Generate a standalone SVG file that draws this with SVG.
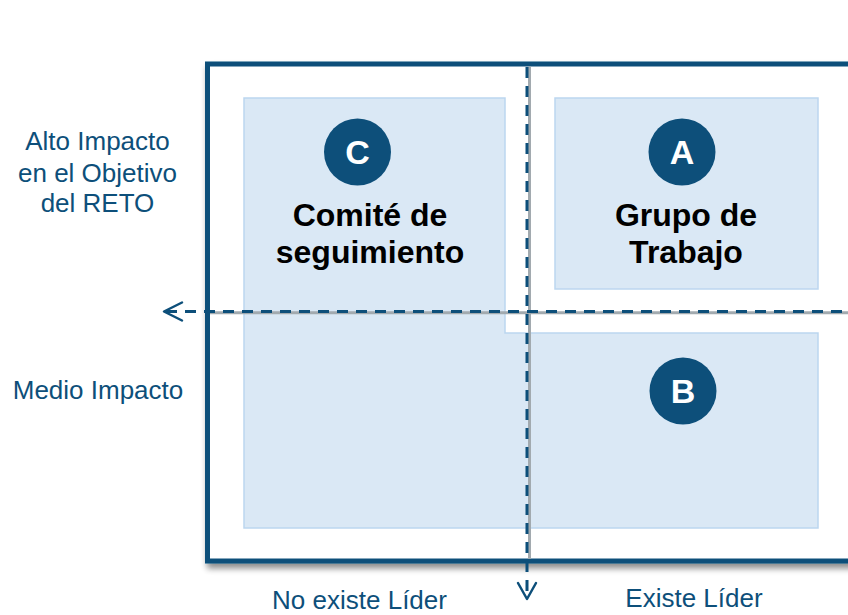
<svg xmlns="http://www.w3.org/2000/svg" width="848" height="615" viewBox="0 0 848 615">
<defs>
<style>
.zone{fill:#dae8f5;stroke:#bcd6ef;stroke-width:1.5}
.badge{fill:#0d4f7a}
.letter{fill:#ffffff;font-family:"Liberation Sans",Arial,sans-serif;font-weight:bold;font-size:34px;text-anchor:middle}
.title{fill:#000000;font-family:"Liberation Sans",Arial,sans-serif;font-weight:bold;font-size:32px;text-anchor:middle}
.axis{fill:#0d4f7a;font-family:"Liberation Sans",Arial,sans-serif;font-size:26px;text-anchor:middle}
.grid{stroke:#a2aaaf;stroke-width:3;fill:none}
.dash{stroke:#0d4f7a;stroke-width:3;stroke-dasharray:11 8;fill:none}
.head{stroke:#0d4f7a;stroke-width:2.5;fill:none;stroke-linecap:round;stroke-linejoin:round}
</style>
<filter id="shadow" x="-5%" y="-5%" width="115%" height="115%">
<feGaussianBlur in="SourceAlpha" stdDeviation="3"/>
<feOffset dx="2" dy="5" result="b"/>
<feComponentTransfer><feFuncA type="linear" slope="0.45"/></feComponentTransfer>
<feMerge><feMergeNode/><feMergeNode in="SourceGraphic"/></feMerge>
</filter>
</defs>
<rect width="848" height="615" fill="#ffffff"/>
<g id="frame">
<rect x="207.5" y="64" width="645" height="497" fill="#ffffff" stroke="#0d4f7a" stroke-width="5" filter="url(#shadow)"/>
</g>
<g id="zone-c-b">
<polygon class="zone" points="244,98 505,98 505,333 818,333 818,528 244,528"/>
</g>
<g id="zone-a">
<rect class="zone" x="555" y="98" width="263" height="191"/>
</g>
<g id="connectors">
<line class="grid" x1="210" y1="312.7" x2="848" y2="312.7"/>
<line class="grid" x1="529.5" y1="66.5" x2="529.5" y2="559"/>
<line class="dash" x1="166" y1="311.5" x2="848" y2="311.5"/>
<line class="dash" x1="527" y1="67" x2="527" y2="597"/>
<polyline class="head" points="182,302.5 164,311.5 182,320.5"/>
<polyline class="head" points="518,583 527,599 536,583"/>
</g>
<g id="node-c">
<circle class="badge" cx="357.5" cy="152" r="33.5"/>
<text class="letter" x="357.5" y="164">C</text>
<text class="title" x="370" y="226">Comité de</text>
<text class="title" x="370" y="263">seguimiento</text>
</g>
<g id="node-a">
<circle class="badge" cx="682" cy="152" r="33.5"/>
<text class="letter" x="682" y="164">A</text>
<text class="title" x="686" y="226">Grupo de</text>
<text class="title" x="686" y="263">Trabajo</text>
</g>
<g id="node-b">
<circle class="badge" cx="683" cy="391" r="33.5"/>
<text class="letter" x="683" y="403">B</text>
</g>
<g id="labels">
<text class="axis" x="97.5" y="150">Alto Impacto</text>
<text class="axis" x="97.5" y="181.5">en el Objetivo</text>
<text class="axis" x="97.5" y="212">del RETO</text>
<text class="axis" x="98" y="399">Medio Impacto</text>
<text class="axis" x="359.5" y="609">No existe Líder</text>
<text class="axis" x="694" y="607">Existe Líder</text>
</g>
</svg>
